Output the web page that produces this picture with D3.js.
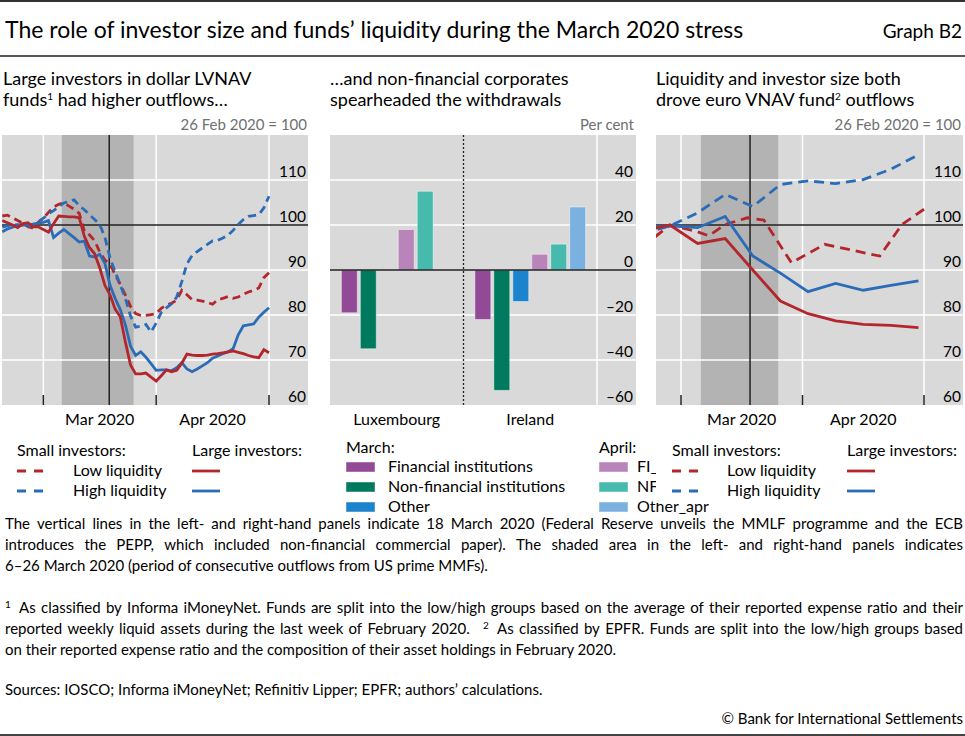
<!DOCTYPE html>
<html>
<head>
<meta charset="utf-8">
<script src="https://cdn.jsdelivr.net/npm/d3@7"></script>
<style>
  body { margin: 0; background: #fff; }
  svg text { font-family: Lato, "Open Sans", sans-serif; fill: #000; }
</style>
</head>
<body>
<svg id="chart" width="965" height="736"></svg>
<script>
var parse = d3.timeParse("%Y-%m-%d");

// ---- left panel: dollar LVNAV funds, business days 19 Feb - 1 May 2020 (26 Feb = 100)
var leftStart = "2020-02-19", leftEnd = "2020-05-01";
var leftSmallLow = [102, 102.2, 101.6, 101, 100.4, 99.6, 99.3, 100.6,
  101.5, 102.8, 104, 104.6, 104.9,
  104.2, 103.5, 102.6, 98.6, 97.8,
  96.5, 94, 92.2, 91.3, 89,
  86.8, 84.4, 81.9, 80.3, 79.9,
  79.9, 80.1,
  80.3, 81.5, 82.2,
  82.6, 83.3, 85.5, 84.5, 83.4,
  83.3, 83.1, 82.8, 82.4, 83.4,
  83.7, 84.1, 83.7, 84, 84.6,
  85.1, 85.5, 86, 88.3,
  89.4];
var leftSmallHigh = [99.5, 99.8, 100, 100.1, 99.9, 99.6, 100, 100.7,
  101.5, 102.5, 103.2, 104, 104.9,
  105.2, 105.6, 104.3, 103.4, 102.3,
  101.2, 100.1, 97.3, 92.7, 89.6,
  86.7, 83.7, 79.8, 77.3, 77.5,
  77.9, 76.2,
  78.2, 80.6, 81.6,
  82.5, 84, 87.4, 91.4, 93.2,
  94.1, 94.9, 95.7, 96.5, 96.6,
  97.1, 97.7, 98.8, 100.1, 101.2,
  101.9, 102.1, 102.3, 103.8,
  106.4];
var leftLargeLow = [101, 100.5, 100, 99.4, 100.3, 100.5, 99.6, 99.6,
  99, 98.4, 100.3, 102, 101.9,
  101.8, 101.8, 101.6, 97.5, 95,
  93.6, 90.5, 86.6, 84.5, 81.3,
  79.6, 74, 68.9, 66.9, 66.9,
  67.1, 66.2,
  65.3, 66.5, 67.8,
  67.4, 67.7, 69.3, 71.3, 71.1,
  71, 71, 71.1, 71.3, 71.4,
  71.6, 71.8, 72, 71.7, 71.4,
  71, 70.7, 70.5, 72.3,
  71.6];
var leftLargeHigh = [98.5, 99.1, 99.5, 99.9, 100, 100, 100.2, 100.4,
  100.6, 101, 97.2, 98.2, 99,
  98.1, 97.2, 96.2, 96.4, 93.1,
  92.9, 93.5, 91.5, 86.6, 83.7,
  81.2, 77.8, 73.1, 71, 71.8,
  70.6, 69.2,
  67.7, 67.8, 67.8,
  67.6, 68.3, 69.4, 68, 67.4,
  68, 68.7, 69.4, 70.4, 70.9,
  71.4, 71.8, 72.5, 75.6, 77.6,
  77.8, 78, 79.5, 80.6,
  81.6];

// ---- right panel: euro VNAV funds, weekly
var rightWeeks = ["2020-02-20", "2020-02-27", "2020-03-05", "2020-03-12", "2020-03-19", "2020-03-26",
  "2020-04-02", "2020-04-09", "2020-04-16", "2020-04-23", "2020-04-30"];
var rightSmallHigh = [98, 99.8, 102.7, 106.8, 104.1, 109, 109.8, 109.2, 110.1, 112.4, 115.6];
var rightLargeLow = [98.7, 100, 95.9, 97, 90, 83.1, 80.3, 78.7, 77.9, 77.7, 77.2];
var rightLargeHigh = [99.5, 99.8, 99.4, 101.9, 93.1, 89.3, 85.2, 87, 85.5, 86.6, 87.6];
var rightSmallLowDates = ["2020-02-20", "2020-02-27", "2020-03-05", "2020-03-09", "2020-03-12", "2020-03-18",
  "2020-03-23", "2020-03-30", "2020-04-07", "2020-04-21", "2020-04-27", "2020-05-01"];
var rightSmallLow = [95.1, 100, 98.5, 97.6, 100.1, 101.6, 101.1, 91.6, 95.7, 93.1, 100.1, 103.5];

// ---- middle panel: flows by investor type, per cent
var countries = ["Luxembourg", "Ireland"];
var sectors = ["FI_mar", "NFI_mar", "Other_mar", "FI_apr", "NFI_apr", "Other_apr"];
var sectorLabels = ["Financial institutions", "Non-financial institutions", "Other", "FI_apr", "NFI_apr", "Other_apr"];
var luxValues = [-19, -35, null, 18, 35, null];
var irlValues = [-22, -53.5, -14, 7, 11.5, 28];

// ---- axes
var monthTicks = ["2020-03-02", "2020-04-01", "2020-05-01"];   // first business day of each month
var monthLabels = ["Mar 2020", "Apr 2020"];
var indexTicks = [60, 70, 80, 90, 100, 110];
var pctTicks = [-60, -40, -20, 0, 20, 40];
var shadeFrom = "2020-03-06", shadeTo = "2020-03-26", eventDay = "2020-03-18";

var red = "#b2262c", blue = "#2b6cb8", bg = "#d9d9d9", shadeCol = "#b3b3b3";
var barColors = ["#924a96", "#007a5e", "#1c83cd", "#b884b9", "#46bbad", "#7bb1e0"];
var plotTop = 135, plotBottom = 405;

var svg = d3.select("#chart");

// business-day counter (x axes skip weekends)
var bdBase = parse("2020-02-17");
function bd(s) {
  var d = typeof s === "string" ? parse(s) : s;
  var days = d3.timeDay.count(bdBase, d);
  return Math.floor(days / 7) * 5 + Math.min(days % 7, 5);
}

var leftDates = d3.timeDay.range(parse(leftStart), d3.timeDay.offset(parse(leftEnd), 1))
  .filter(function(d){ return d.getDay() > 0 && d.getDay() < 6; });

// ---- header
svg.append("line").attr("x1", 0).attr("x2", 965).attr("y1", 1).attr("y2", 1).attr("stroke", "#333").attr("stroke-width", 2);
svg.append("text").attr("x", 5).attr("y", 38).attr("font-size", 23)
  .text("The role of investor size and funds’ liquidity during the March 2020 stress");
svg.append("text").attr("x", 962).attr("y", 38).attr("font-size", 19).attr("text-anchor", "end").text("Graph B2");
svg.append("line").attr("x1", 0).attr("x2", 965).attr("y1", 56).attr("y2", 56).attr("stroke", "#555").attr("stroke-width", 2);

function panelTitle(x, line1, line2, sup, rest) {
  svg.append("text").attr("x", x).attr("y", 85).attr("font-size", 18).text(line1);
  var t = svg.append("text").attr("x", x).attr("y", 106).attr("font-size", 18);
  t.append("tspan").text(line2);
  if (sup) {
    t.append("tspan").attr("font-size", 10).attr("dy", -6).text(sup);
    t.append("tspan").attr("dy", 6).text(rest);
  }
}
function unitLabel(x, txt) {
  svg.append("text").attr("x", x).attr("y", 130).attr("font-size", 15)
    .attr("text-anchor", "end").style("fill", "#707070").text(txt);
}

panelTitle(3, "Large investors in dollar LVNAV", "funds", "1", " had higher outflows…");
panelTitle(330, "…and non-financial corporates", "spearheaded the withdrawals");
panelTitle(656, "Liquidity and investor size both", "drove euro VNAV fund", "2", " outflows");
unitLabel(307, "26 Feb 2020 = 100");
unitLabel(634, "Per cent");
unitLabel(961, "26 Feb 2020 = 100");

// ---- line panels
function linePanel(o) {
  var g = svg.append("g");
  var x = o.x, y = d3.scaleLinear().domain([60, 120]).range([plotBottom, plotTop]);

  g.append("clipPath").attr("id", o.id).append("rect")
    .attr("x", o.x0).attr("y", plotTop).attr("width", o.x1 - o.x0).attr("height", plotBottom - plotTop);
  g.append("rect").attr("x", o.x0).attr("y", plotTop).attr("width", o.x1 - o.x0)
    .attr("height", plotBottom - plotTop).attr("fill", bg);

  // shaded period (bars sit a little before the date)
  var s0 = x(bd(shadeFrom) - 0.4), s1 = x(bd(shadeTo) - 0.4);
  g.append("rect").attr("x", s0).attr("y", plotTop).attr("width", s1 - s0)
    .attr("height", plotBottom - plotTop).attr("fill", shadeCol);

  g.selectAll(".hg").data(indexTicks.filter(function(v){ return v !== 100 && v !== 60; }))
    .enter().append("line")
    .attr("x1", o.x0).attr("x2", o.x1)
    .attr("y1", function(d){ return y(d); }).attr("y2", function(d){ return y(d); })
    .attr("stroke", "#fff").attr("stroke-width", 1.5);
  g.selectAll(".vg").data(monthTicks).enter().append("line")
    .attr("x1", function(d){ return x(bd(d)); }).attr("x2", function(d){ return x(bd(d)); })
    .attr("y1", plotTop).attr("y2", plotBottom)
    .attr("stroke", "#fff").attr("stroke-width", 1.5);

  g.append("line").attr("x1", o.x0).attr("x2", o.x1).attr("y1", y(100)).attr("y2", y(100))
    .attr("stroke", "#222").attr("stroke-width", 1.5);
  var ev = x(bd(eventDay) + o.evOff);
  g.append("line").attr("x1", ev).attr("x2", ev).attr("y1", plotTop).attr("y2", plotBottom)
    .attr("stroke", "#222").attr("stroke-width", 1.5);

  g.selectAll(".tk").data(monthTicks).enter().append("line")
    .attr("x1", function(d){ return x(bd(d)); }).attr("x2", function(d){ return x(bd(d)); })
    .attr("y1", plotBottom - 10).attr("y2", plotBottom)
    .attr("stroke", "#222").attr("stroke-width", 1.5);

  var lines = g.append("g").attr("clip-path", "url(#" + o.id + ")");
  o.series.forEach(function(s){
    var line = d3.line()
      .x(function(d){ return x(bd(d[0])); })
      .y(function(d){ return y(d[1]); });
    lines.append("path").datum(d3.zip(s.dates, s.values))
      .attr("d", line).attr("fill", "none")
      .attr("stroke", s.color).attr("stroke-width", 2.8)
      .attr("stroke-dasharray", s.dash);
  });

  g.selectAll(".yl").data(indexTicks).enter().append("text")
    .attr("x", o.x1 - 2).attr("y", function(d){ return y(d) - 3.5; })
    .attr("text-anchor", "end").attr("font-size", 15.5)
    .text(function(d){ return d; });
  g.selectAll(".xl").data(monthLabels).enter().append("text")
    .attr("x", function(d, i){ return (x(bd(monthTicks[i])) + x(bd(monthTicks[i + 1]))) / 2; })
    .attr("y", 425).attr("text-anchor", "middle").attr("font-size", 16)
    .text(function(d){ return d; });
}

var xLeft = d3.scaleLinear().domain([bd(leftStart), bd(leftEnd)]).range([2.3, 269]);
linePanel({
  id: "clipL", x0: 2, x1: 308, x: xLeft, evOff: 0.85,
  series: [
    {dates: leftDates, values: leftSmallLow, color: red, dash: "8,5"},
    {dates: leftDates, values: leftSmallHigh, color: blue, dash: "8,5"},
    {dates: leftDates, values: leftLargeHigh, color: blue, dash: null},
    {dates: leftDates, values: leftLargeLow, color: red, dash: null}
  ]
});

var xRight = d3.scaleLinear().domain([bd(monthTicks[0]), bd(monthTicks[2])]).range([681, 924]);
linePanel({
  id: "clipR", x0: 656, x1: 963, x: xRight, evOff: 0.5,
  series: [
    {dates: rightSmallLowDates, values: rightSmallLow, color: red, dash: "10,6"},
    {dates: rightWeeks, values: rightSmallHigh, color: blue, dash: "10,6"},
    {dates: rightWeeks, values: rightLargeHigh, color: blue, dash: null},
    {dates: rightWeeks, values: rightLargeLow, color: red, dash: null}
  ]
});

// ---- bar panel
(function(){
  var g = svg.append("g");
  var xc = d3.scaleBand().domain(countries).range([330, 597]);
  var xs = d3.scaleBand().domain(sectors).range([0, xc.bandwidth()]).paddingInner(0.16).paddingOuter(0.6);
  var y = d3.scaleLinear().domain([-60, 60]).range([plotBottom, plotTop]);
  var color = d3.scaleOrdinal().domain(sectors).range(barColors);

  g.append("rect").attr("x", 330).attr("y", plotTop).attr("width", 306)
    .attr("height", plotBottom - plotTop).attr("fill", bg);
  g.selectAll(".hg").data(pctTicks.filter(function(v){ return v !== 0 && v !== -60; }))
    .enter().append("line")
    .attr("x1", 330).attr("x2", 636)
    .attr("y1", function(d){ return y(d); }).attr("y2", function(d){ return y(d); })
    .attr("stroke", "#fff").attr("stroke-width", 1.5);
  g.append("line").attr("x1", 597).attr("x2", 597).attr("y1", plotTop).attr("y2", plotBottom)
    .attr("stroke", "#fff").attr("stroke-width", 1.5);

  var rows = [luxValues, irlValues];
  countries.forEach(function(c, ci){
    var data = sectors.map(function(s, i){ return {s: s, v: rows[ci][i]}; })
      .filter(function(d){ return d.v !== null; });
    g.append("g").attr("transform", "translate(" + xc(c) + ",0)")
      .selectAll("rect").data(data).enter().append("rect")
      .attr("x", function(d){ return xs(d.s); })
      .attr("width", xs.bandwidth())
      .attr("y", function(d){ return y(Math.max(0, d.v)); })
      .attr("height", function(d){ return Math.abs(y(d.v) - y(0)); })
      .attr("fill", function(d){ return color(d.s); })
      .attr("stroke", "rgba(255,255,255,0.45)").attr("stroke-width", 1);
  });

  g.append("line").attr("x1", 330).attr("x2", 636).attr("y1", y(0)).attr("y2", y(0))
    .attr("stroke", "#222").attr("stroke-width", 1.5);
  g.append("line").attr("x1", xc("Ireland")).attr("x2", xc("Ireland"))
    .attr("y1", plotTop).attr("y2", plotBottom)
    .attr("stroke", "#222").attr("stroke-width", 1.3).attr("stroke-dasharray", "2,2");

  g.selectAll(".yl").data(pctTicks).enter().append("text")
    .attr("x", 633).attr("y", function(d){ return y(d) - 3.5; })
    .attr("text-anchor", "end").attr("font-size", 15.5)
    .text(function(d){ return d < 0 ? "–" + Math.abs(d) : d; });
  g.selectAll(".xl").data(countries).enter().append("text")
    .attr("x", function(d){ return xc(d) + xc.bandwidth() / 2; })
    .attr("y", 425).attr("text-anchor", "middle").attr("font-size", 16)
    .text(function(d){ return d; });

  // legend: March and April columns
  var lg = svg.append("g");
  lg.append("text").attr("x", 346).attr("y", 453).attr("font-size", 16).text("March:");
  lg.append("text").attr("x", 599).attr("y", 453).attr("font-size", 16).text("April:");
  sectors.forEach(function(s, i){
    var col = i < 3 ? 0 : 1, row = i % 3;
    var sx = col ? 599 : 346, by = 472 + row * 20;
    lg.append("rect").attr("x", sx).attr("y", by - 10).attr("width", 29).attr("height", 10)
      .attr("fill", color(s)).attr("stroke", "rgba(255,255,255,0.45)");
    lg.append("text").attr("x", sx + (col ? 38 : 42)).attr("y", by).attr("font-size", 16).text(sectorLabels[i]);
  });
})();

// ---- line legends (the right one is boxed and hides the end of the April labels)
function lineLegend(x0, xText, x1, cover) {
  var g = svg.append("g");
  if (cover) g.append("rect").attr("x", x0 - 16).attr("y", 438).attr("width", 965 - x0 + 16).attr("height", 65).attr("fill", "#fff");
  g.append("text").attr("x", x0).attr("y", 456).attr("font-size", 16).text("Small investors:");
  g.append("text").attr("x", x1).attr("y", 456).attr("font-size", 16).text("Large investors:");
  [["Low liquidity", red], ["High liquidity", blue]].forEach(function(r, i){
    var yy = 471 + i * 20;
    g.append("line").attr("x1", x0).attr("x2", x0 + 27).attr("y1", yy).attr("y2", yy)
      .attr("stroke", r[1]).attr("stroke-width", 2.8).attr("stroke-dasharray", "9,8");
    g.append("text").attr("x", xText).attr("y", yy + 5).attr("font-size", 16).text(r[0]);
    g.append("line").attr("x1", x1).attr("x2", x1 + 28).attr("y1", yy).attr("y2", yy)
      .attr("stroke", r[1]).attr("stroke-width", 2.8);
  });
}
lineLegend(17, 73, 192, false);
lineLegend(672, 727, 847, true);

// ---- notes
function noteLine(txt, y, just) {
  if (!just) {
    svg.append("text").attr("x", 5).attr("y", y).attr("font-size", 15).text(txt);
    return;
  }
  var words = txt.split(/\s+/).filter(function(w){ return w.length; });
  var nodes = words.map(function(w, i){
    var sup = w.charAt(0) === "^";
    var t = svg.append("text").attr("y", sup ? y - 5 : y).attr("font-size", sup ? 10 : 15)
      .text(sup ? w.slice(1) : w);
    var extra = sup ? (i > 0 ? 8 : 0) : (i > 0 && words[i - 1].charAt(0) === "^" ? 3 : 0);
    return {t: t, w: t.node().getComputedTextLength(), extra: extra};
  });
  var free = 958 - d3.sum(nodes, function(n){ return n.w + n.extra; });
  var gap = free / (nodes.length - 1), xx = 5;
  nodes.forEach(function(n){ xx += n.extra; n.t.attr("x", xx); xx += n.w + gap; });
}
noteLine("The vertical lines in the left- and right-hand panels indicate 18 March 2020 (Federal Reserve unveils the MMLF programme and the ECB", 529, true);
noteLine("introduces the PEPP, which included non-financial commercial paper). The shaded area in the left- and right-hand panels indicates", 550, true);
noteLine("6–26 March 2020 (period of consecutive outflows from US prime MMFs).", 571, false);
noteLine("^1 As classified by Informa iMoneyNet. Funds are split into the low/high groups based on the average of their reported expense ratio and their", 613, true);
noteLine("reported weekly liquid assets during the last week of February 2020. ^2 As classified by EPFR. Funds are split into the low/high groups based", 634, true);
noteLine("on their reported expense ratio and the composition of their asset holdings in February 2020.", 655, false);
noteLine("Sources: IOSCO; Informa iMoneyNet; Refinitiv Lipper; EPFR; authors’ calculations.", 695, false);
svg.append("text").attr("x", 963).attr("y", 724).attr("font-size", 15).attr("text-anchor", "end")
  .text("© Bank for International Settlements");
svg.append("line").attr("x1", 0).attr("x2", 965).attr("y1", 735).attr("y2", 735).attr("stroke", "#444").attr("stroke-width", 2);
</script>
</body>
</html>
